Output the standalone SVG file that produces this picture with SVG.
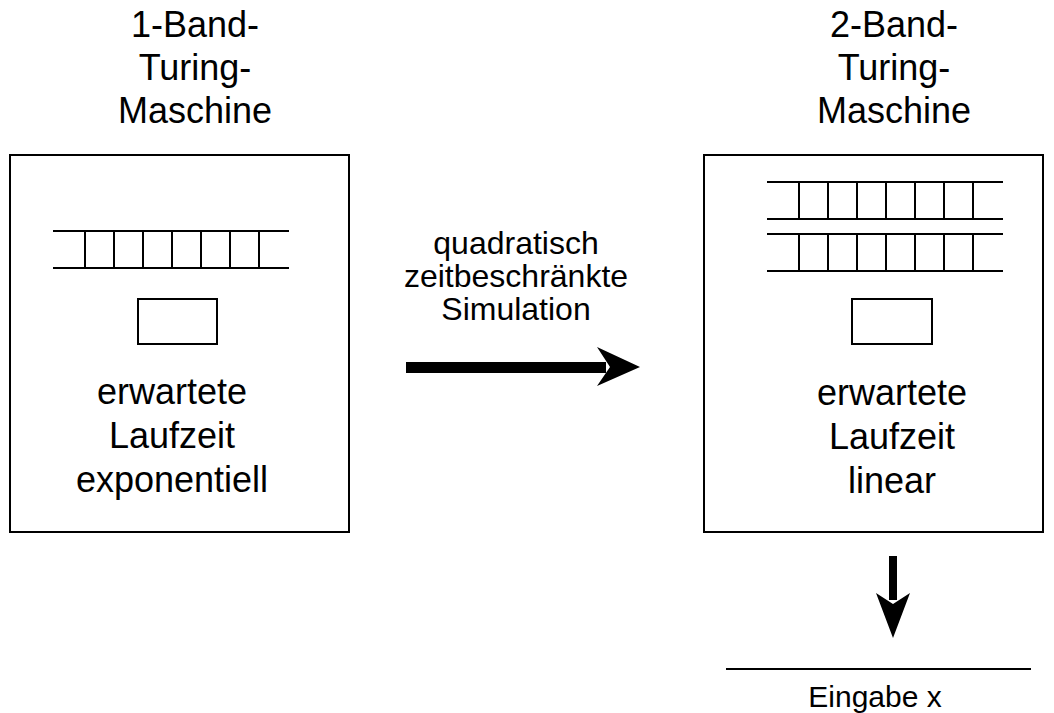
<svg xmlns="http://www.w3.org/2000/svg" width="1054" height="713" viewBox="0 0 1054 713">
<style>
.t{font-family:"Liberation Sans",Arial,Helvetica,sans-serif;fill:#000;text-anchor:middle}
.big{font-size:36px}
.mid{font-size:32px}
.sm{font-size:30px}
.ln{stroke:#000;stroke-width:2;fill:none}
</style>
<defs>
<g id="tape">
<path class="ln" d="M0 0H236M0 37H236M32 0V37M61 0V37M90 0V37M119 0V37M148 0V37M177 0V37M206 0V37"/>
</g>
</defs>
<rect width="1054" height="713" fill="#fff"/>
<g id="tm1">
<rect class="ln" x="10" y="155" width="339" height="377"/>
<text class="t big" x="195" y="37">1-Band-</text>
<text class="t big" x="195" y="80">Turing-</text>
<text class="t big" x="195" y="123">Maschine</text>
<use href="#tape" x="53" y="231"/>
<rect class="ln" x="138" y="299" width="79" height="45"/>
<text class="t big" x="172" y="404">erwartete</text>
<text class="t big" x="172" y="448">Laufzeit</text>
<text class="t big" x="172" y="492">exponentiell</text>
</g>
<g id="tm2">
<rect class="ln" x="704" y="155" width="339" height="377"/>
<text class="t big" x="894" y="37">2-Band-</text>
<text class="t big" x="894" y="80">Turing-</text>
<text class="t big" x="894" y="123">Maschine</text>
<use href="#tape" x="767" y="182"/>
<use href="#tape" x="767" y="234"/>
<rect class="ln" x="852" y="299" width="80" height="45"/>
<text class="t big" x="892" y="405">erwartete</text>
<text class="t big" x="892" y="449">Laufzeit</text>
<text class="t big" x="892" y="493">linear</text>
</g>
<g id="label">
<text class="t mid" x="516" y="254">quadratisch</text>
<text class="t mid" x="516" y="287">zeitbeschränkte</text>
<text class="t mid" x="516" y="320">Simulation</text>
</g>
<g id="input">
<line class="ln" x1="726" y1="669" x2="1031" y2="669"/>
<text class="t sm" x="875" y="707">Eingabe x</text>
</g>
<g id="connectors">
<path d="M406 362H606V373H406Z" fill="#000"/>
<path d="M640 367L597 347L610 367L597 386Z" fill="#000"/>
<path d="M889 556H897V600H889Z" fill="#000"/>
<path d="M893 638L876 593L893 604L910 593Z" fill="#000"/>
</g>
</svg>
